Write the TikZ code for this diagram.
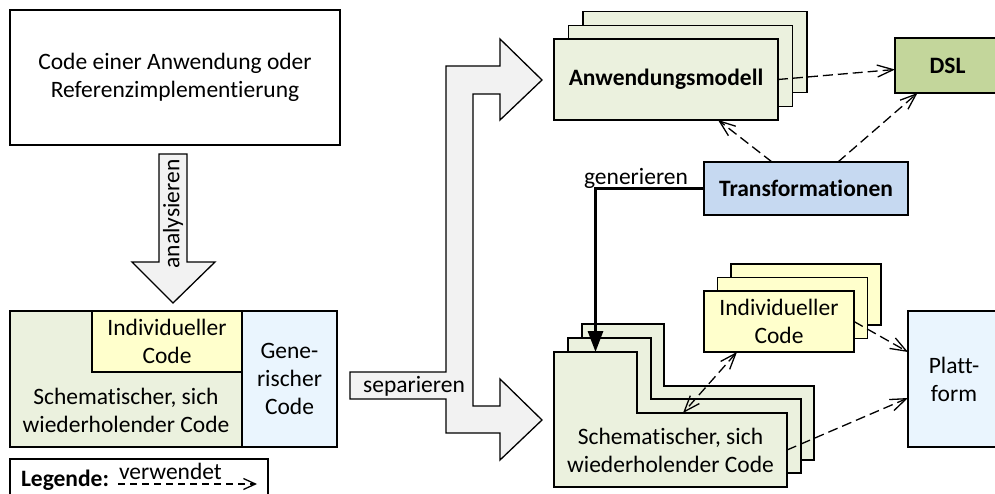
\documentclass[tikz,border=0pt]{standalone}
\usepackage{fontspec}
\setmainfont{Carlito}[Ligatures=NoCommon]
\usetikzlibrary{arrows.meta}

\definecolor{modelgreen}{HTML}{EBF1DE}
\definecolor{dslgreen}{HTML}{C3D69B}
\definecolor{trblue}{HTML}{C6D9F1}
\definecolor{indyellow}{HTML}{FFFFCC}
\definecolor{genblue}{HTML}{EAF5FE}
\definecolor{flowgray}{HTML}{F2F2F2}

\begin{document}
\begin{tikzpicture}[x=1pt,y=-1pt,
  font=\fontsize{23.5}{28}\selectfont,
  box/.style={draw, line width=1.3pt, inner sep=0pt, outer sep=0pt, align=center},
  plain/.style={inner sep=0pt, outer sep=0pt, align=center},
  flow/.style={draw, line width=1.3pt, fill=flowgray, line join=miter},
  barb/.tip={Straight Barb[length=16pt,width=12pt,line width=1.3pt]},
  uses/.style={line width=1.3pt, dash pattern=on 10pt off 5pt, -{barb}},
  usesboth/.style={line width=1.3pt, dash pattern=on 10pt off 5pt, {barb}-{barb}},
  gen/.style={line width=3pt, -{Triangle[length=21pt,width=15pt]}}
]
\useasboundingbox (0,0) rectangle (995,494);

% source code box
\node[box, minimum width=330pt, minimum height=135pt] (src) at (175,77.5)
  {Code einer Anwendung oder\\Referenzimplementierung};

% "analysieren" arrow
\draw[flow] (159,154) -- (187,154) -- (187,262) -- (215,262) -- (173,303)
  -- (132,262) -- (159,262) -- cycle;
\node[plain, rotate=90] (ana) at (173,214) {analysieren};

% analysed code, split into its parts
\node[box, fill=modelgreen, minimum width=232pt, minimum height=136pt] (schem) at (126,379) {};
\node[box, fill=genblue, minimum width=95pt, minimum height=136pt] (generic) at (289.5,379)
  {Gene-\\rischer\\Code};
\node[box, fill=indyellow, minimum width=150pt, minimum height=61pt] (indiv) at (167,341.5)
  {Individueller\\Code};
\node[plain] (schemtext) at (126,410) {Schematischer, sich\\wiederholender Code};

% legend
\node[box, minimum width=258pt, minimum height=46pt] (legend) at (139,482) {};
\node[plain, anchor=base west, font=\fontsize{23.5}{28}\selectfont\bfseries] (legtitle) at (21,486) {Legende:};
\node[plain, anchor=base west] (legword) at (119,479) {verwendet};
\coordinate (lgA) at (118,484);
\coordinate (lgB) at (257,484);
\draw[line width=1.3pt, dash pattern=on 7pt off 5pt,
  -{Straight Barb[length=12pt,width=11pt,line width=1.3pt]}] (lgA) -- (lgB);

% "separieren" fork arrow
\draw[flow] (350,372) -- (446,372) -- (446,66) -- (500,66) -- (500,39) -- (542,80)
  -- (500,120) -- (500,94) -- (473,94) -- (473,406) -- (500,406) -- (500,379)
  -- (542,420) -- (500,460) -- (500,433) -- (446,433) -- (446,399) -- (350,399) -- cycle;
\node[plain, anchor=base] (sep) at (414,392) {separieren};

% application model stack
\node[box, fill=modelgreen, minimum width=224pt, minimum height=81pt] (am3) at (695,52) {};
\node[box, fill=modelgreen, minimum width=224pt, minimum height=81pt] (am2) at (680.5,66) {};
\node[box, fill=modelgreen, minimum width=224pt, minimum height=81pt, font=\fontsize{23.5}{28}\selectfont\bfseries] (am) at (666,79.5) {Anwendungsmodell};

% DSL
\node[box, fill=dslgreen, minimum width=105pt, minimum height=55pt, font=\fontsize{23.5}{28}\selectfont\bfseries] (dsl) at (947.5,65.5) {DSL};

% transformations
\node[box, fill=trblue, minimum width=204pt, minimum height=53pt, font=\fontsize{23.5}{28}\selectfont\bfseries] (tr) at (806,188.5) {Transformationen};

% individual code stack
\node[box, fill=indyellow, minimum width=150pt, minimum height=61pt] (ic3) at (806,294.5) {};
\node[box, fill=indyellow, minimum width=150pt, minimum height=61pt] (ic2) at (792.5,308) {};
\node[box, fill=indyellow, minimum width=150pt, minimum height=61pt] (ic) at (779,321.5) {Individueller\\Code};

% platform
\node[box, fill=genblue, minimum width=92pt, minimum height=136pt] (pf) at (954,379) {Platt-\\form};

% schematic code stack (L-shaped sheets)
\draw[line width=1.3pt, fill=modelgreen] (582,324) -- (664,324) -- (664,386) -- (814,386)
  -- (814,460) -- (582,460) -- cycle;
\draw[line width=1.3pt, fill=modelgreen] (568,338) -- (651,338) -- (651,399) -- (801,399)
  -- (801,473) -- (568,473) -- cycle;
\draw[line width=1.3pt, fill=modelgreen] (554,352) -- (637,352) -- (637,413) -- (787,413)
  -- (787,487) -- (554,487) -- cycle;
\node[plain, minimum width=83pt, minimum height=61pt] (scTop) at (595.5,382.5) {};
\node[plain, minimum width=233pt, minimum height=74pt] (scLow) at (670.5,450)
  {Schematischer, sich\\wiederholender Code};

% dependencies
\draw[uses] (am.east) -- ([yshift=-4pt]dsl.west);
\draw[uses] ([xshift=-34pt]tr.north) -- ([xshift=52pt]am.south);
\draw[uses] ([xshift=32pt]tr.north) -- ([xshift=-30pt]dsl.south);
\draw[uses] (ic.east) -- ([yshift=27pt]pf.west);
\draw[uses] (scLow.east) -- ([yshift=-19pt]pf.west);
\draw[usesboth] ([xshift=-42pt]ic.south) -- ([xshift=12.5pt]scLow.north);

% generation
\draw[gen] (tr.west) -| (scTop.north);
\node[plain, anchor=base] (genlabel) at (636,185) {generieren};

\end{tikzpicture}
\end{document}
